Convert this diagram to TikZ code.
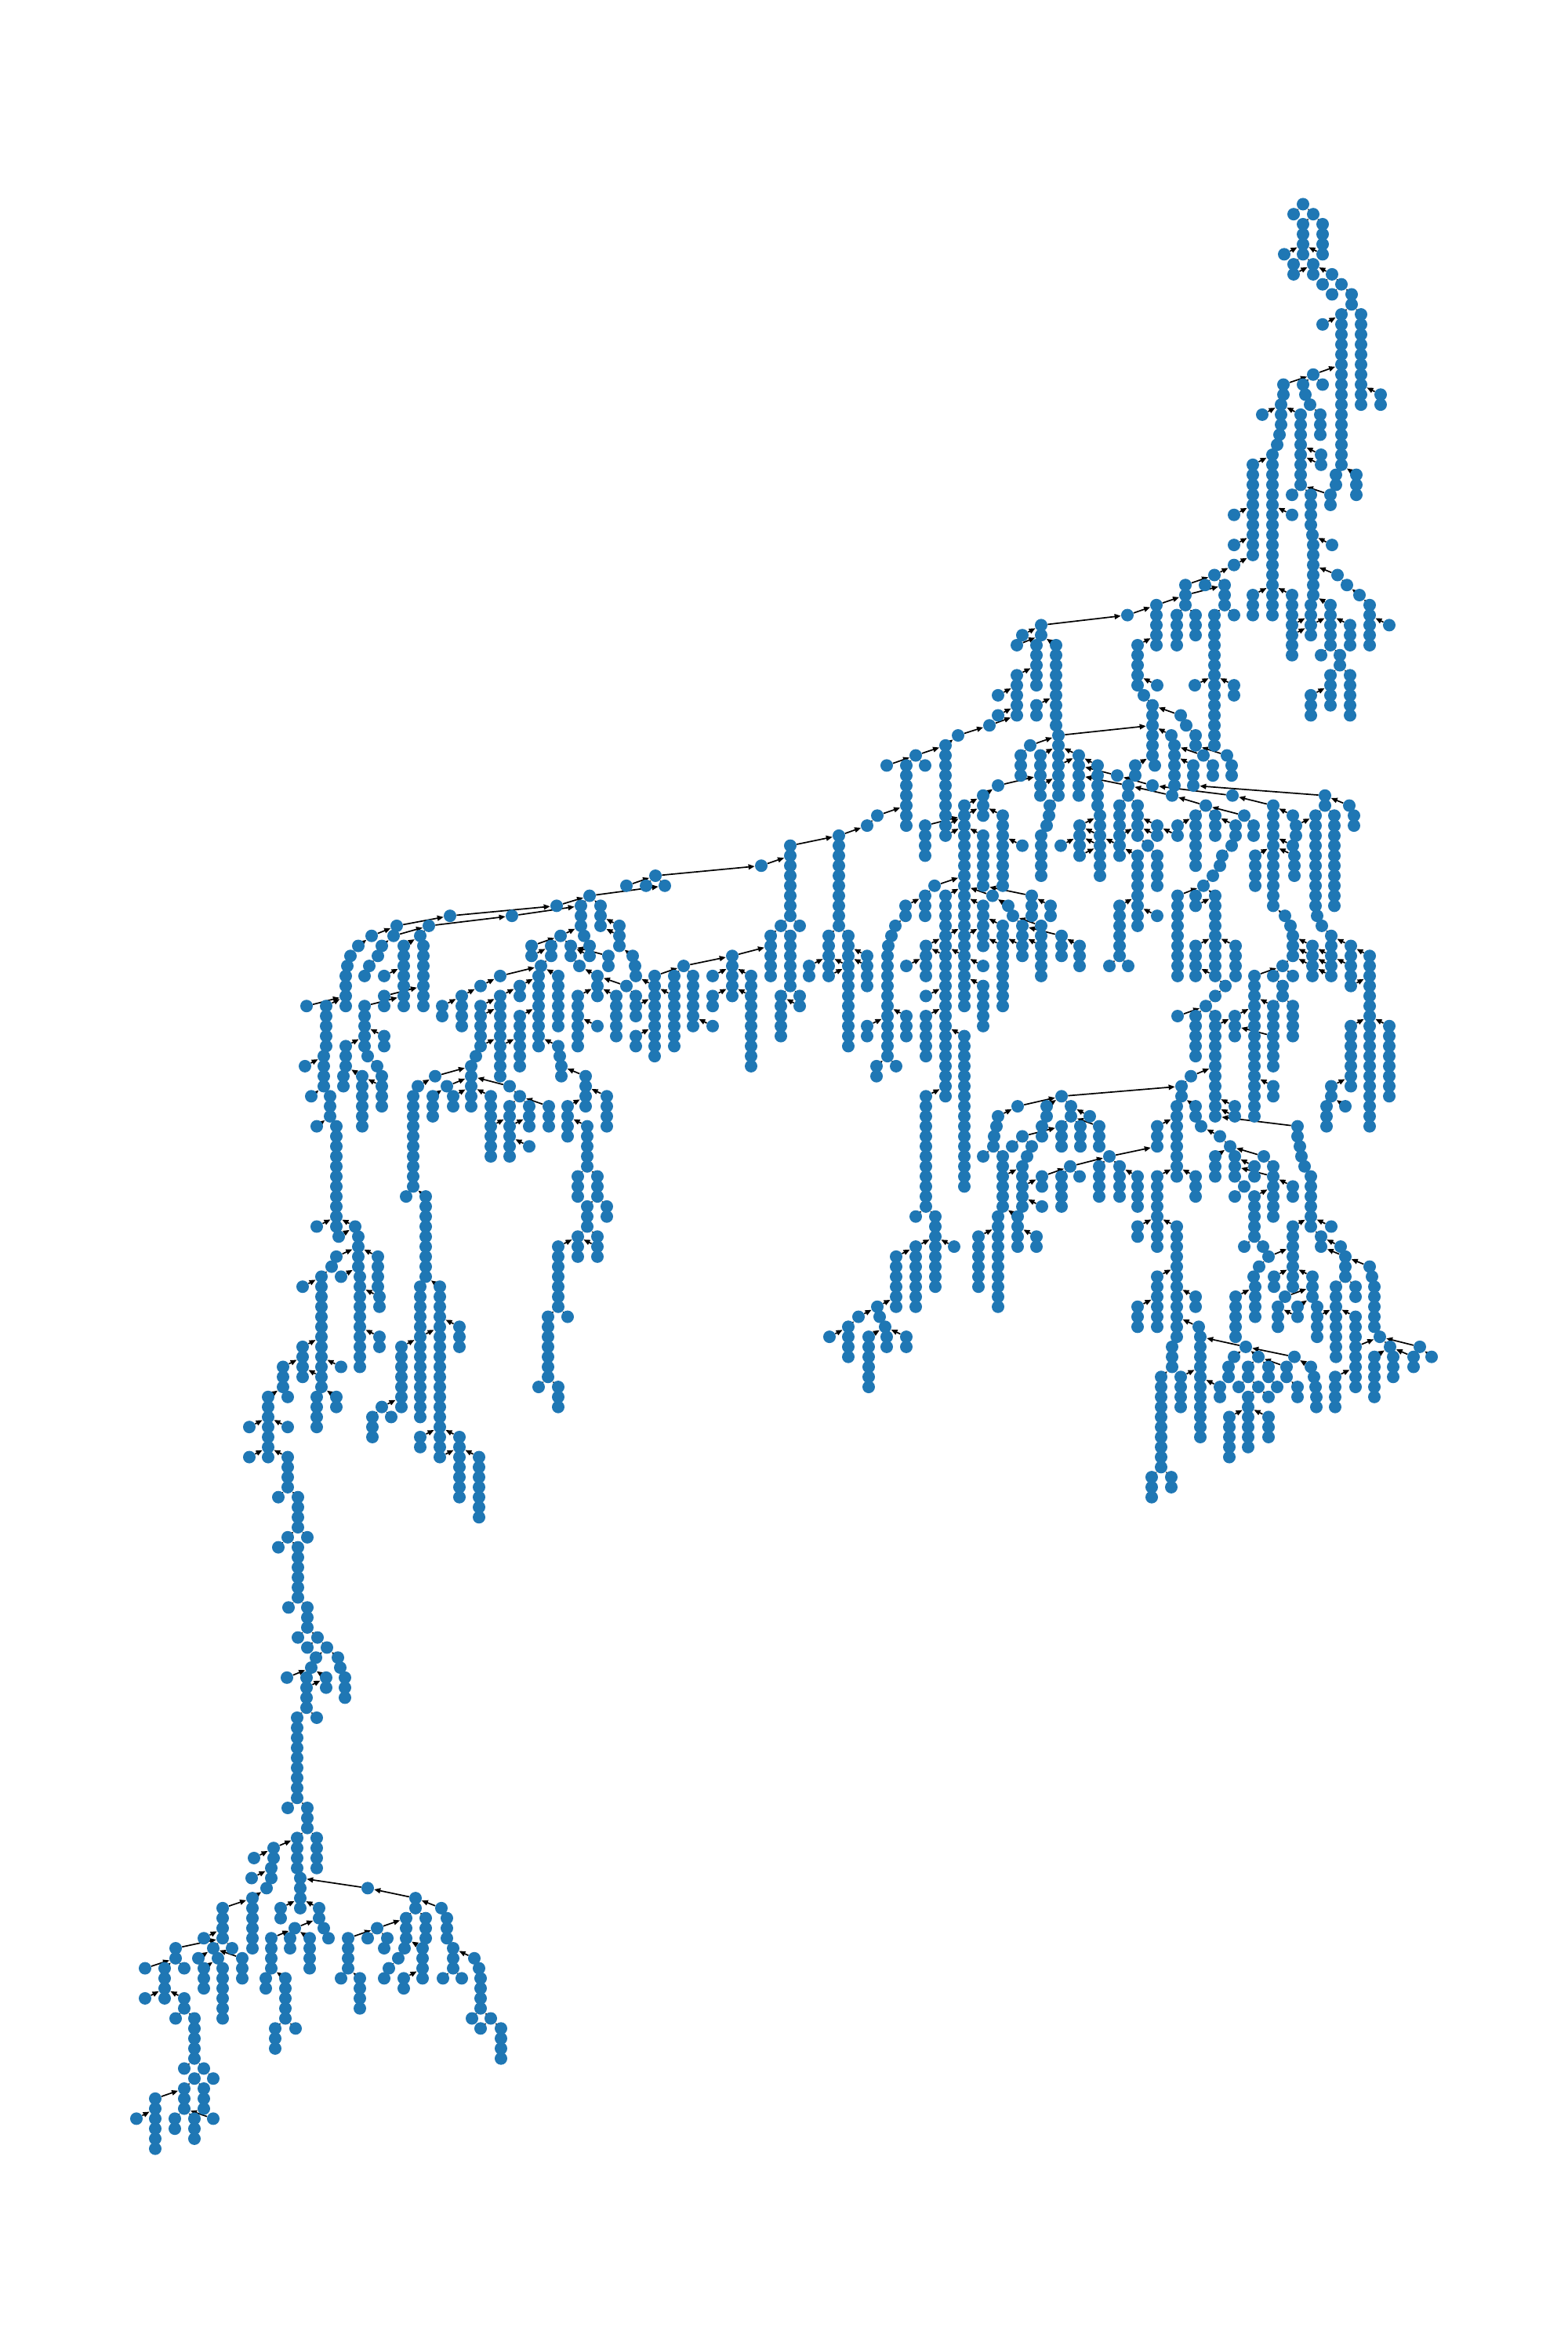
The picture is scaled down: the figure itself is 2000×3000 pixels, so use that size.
\documentclass[tikz,border=0pt]{standalone}
\usetikzlibrary{arrows.meta, backgrounds}
\definecolor{nodeblue}{HTML}{1F77B4}

% each entry: x / first level / count / parent x / parent level
\newcommand{\treecolumns}{%
% top branch
1650/1/1/1662/0, 1675/1/1/1662/0, 1662/2/4/1675/1, 1687/2/4/1675/1, 1638/5/1/1662/4, 1650/6/1/1662/5, 1675/6/1/1662/5,
1650/7/1/1675/6, 1675/7/1/1675/6, 1699/7/1/1675/6, 1687/8/1/1699/7, 1711/8/1/1699/7, 1699/9/1/1711/8, 1724/9/2/1711/8,
1711/11/16/1724/10, 1736/11/10/1724/10, 1687/12/1/1711/11, 1761/19/2/1736/18, 1675/17/1/1711/16, 1637/18/2/1675/17,
1662/18/1/1675/17, 1687/18/1/1675/17, 1665/19/1/1662/18, 1671/20/1/1665/19, 1684/21/3/1671/20, 1634/20/3/1637/19,
1632/23/1/1634/22, 1629/24/1/1632/23, 1623/25/17/1629/24, 1610/21/1/1634/20, 1659/21/8/1634/20, 1685/25/1/1659/24,
1685/26/1/1659/25, 1648/29/1/1659/28, 1672/29/4/1659/28, 1697/29/2/1659/28, 1704/27/2/1711/26, 1730/27/3/1711/26,
1674/33/1/1672/32, 1675/34/6/1674/33, 1699/34/1/1674/33, 1672/40/4/1675/39, 1598/26/10/1623/25, 1648/31/1/1623/30,
1574/31/1/1598/30, 1574/34/1/1598/33, 1574/36/1/1598/35, 1549/37/1/1574/36, 1512/38/1/1549/37, 1537/38/1/1549/37,
1562/38/3/1549/37, 1512/39/2/1562/38, 1475/40/5/1512/39, 1438/41/1/1475/40, 1501/41/4/1512/40, 1525/41/3/1512/40,
1549/41/14/1562/40, 1574/41/1/1562/40, 1598/39/3/1623/38, 1648/39/7/1623/38, 1697/40/5/1675/39, 1706/37/1/1675/36,
1718/38/1/1706/37, 1734/39/1/1718/38, 1747/40/5/1734/39, 1772/42/1/1747/41, 1722/42/3/1697/41, 1685/45/1/1697/44,
1709/45/2/1697/44, 1697/47/4/1709/46, 1722/47/5/1709/46, 1672/49/3/1697/48, 1451/44/5/1475/43, 1476/48/1/1451/47,
1459/49/1/1451/48, 1470/50/6/1459/49, 1473/56/1/1470/55, 1448/56/2/1470/55, 1524/48/1/1549/47, 1574/48/2/1549/47,
% upper middle
1328/42/1/1438/41, 1304/43/1/1328/42, 1328/43/1/1328/42, 1297/44/1/1328/43, 1322/44/5/1328/43, 1347/44/9/1328/43,
1350/53/7/1470/52, 1297/47/5/1322/46, 1273/49/1/1297/48, 1273/51/1/1297/50, 1262/52/1/1297/51, 1222/53/1/1262/52,
1206/54/10/1222/53, 1168/55/1/1206/54, 1131/56/1/1168/55, 1180/56/1/1168/55, 1156/56/7/1168/55, 1119/61/1/1156/60,
1106/62/1/1119/61, 1070/63/10/1106/62, 1322/50/2/1347/49, 1008/64/8/1070/63, 1314/54/1/1350/53, 1302/55/3/1314/54,
1327/55/3/1350/54, 1327/58/2/1350/57, 1376/55/5/1350/54, 1400/56/5/1376/55, 1403/61/7/1400/60, 1425/57/1/1376/56,
1439/58/2/1376/57, 1470/58/1/1425/57, 1572/59/1/1470/58, 1506/51/1/1470/50, 1513/52/1/1506/51, 1525/53/2/1513/52,
1565/55/1/1525/54, 1571/56/2/1565/55, 1494/53/1/1470/52, 1498/54/5/1494/53, 1495/59/1/1439/58, 1535/55/1/1498/54,
1547/56/2/1535/55, 1522/56/3/1498/55, 1538/60/1/1495/59, 1587/61/1/1538/60, 1599/62/2/1587/61, 1690/59/2/1522/58,
1721/60/1/1690/59, 1727/61/2/1721/60, 1624/60/11/1572/59, 1649/61/1/1624/60, 1653/62/2/1678/61, 1649/64/1/1624/63,
1651/65/3/1624/64, 1601/65/4/1624/64, 1678/61/10/1690/60, 1680/71/1/1678/70, 1686/72/1/1680/71, 1702/61/10/1690/60,
1639/71/1/1624/70, 1646/72/1/1639/71, 1649/73/3/1646/72, 1525/61/6/1538/60, 1502/62/1/1525/61, 1476/62/1/1451/61,
1502/63/1/1476/62, 1550/61/3/1538/60, 1576/62/2/1550/61, 1571/64/1/1576/63, 1559/65/1/1571/64, 1556/66/1/1559/65,
1547/67/1/1556/66, 1535/68/1/1547/67, 1502/69/9/1535/68, 1525/69/1/1535/68, 1550/69/9/1535/68, 1525/70/1/1550/69,
1428/60/6/1439/59, 1451/60/4/1439/59, 1464/64/1/1451/63, 1451/65/8/1428/64, 1476/65/4/1464/64, 1476/63/1/1451/62,
1377/62/4/1403/61, 1353/64/1/1377/63, 1273/58/1/1327/57, 1254/59/3/1273/58, 1230/60/21/1254/59, 1279/61/8/1254/60,
1304/64/1/1279/63, 1254/63/6/1230/62, 1180/62/4/1230/61, 1339/60/1/1350/59, 1338/61/1/1339/60, 1335/62/1/1338/61,
1328/63/5/1335/62, 1192/68/1/1230/67, 1180/69/3/1192/68, 1155/70/2/1180/69, 1142/72/1/1155/71, 1137/73/1/1142/72,
1133/74/1/1137/73, 1132/75/11/1133/74, 1206/69/21/1230/68, 1266/69/1/1230/68, 1286/70/1/1266/69, 1292/71/1/1286/70,
1304/72/4/1292/71, 1316/69/3/1254/68, 1340/70/2/1316/69, 1254/70/5/1230/69, 1279/72/9/1254/71, 1328/72/6/1292/71,
1354/73/3/1304/72, 1377/74/3/1354/73, 1057/73/5/1070/72, 1082/73/12/1070/72, 1106/75/4/1082/74, 1181/74/4/1206/73,
1156/76/1/1181/75, 1254/76/1/1230/75, 1254/78/5/1230/77, 1428/70/6/1451/69, 1415/76/1/1428/75, 1439/76/1/1428/75,
1476/71/1/1451/70, 1525/74/4/1550/73, 1576/74/4/1550/73, 1636/76/1/1649/75, 1600/77/15/1636/76, 1624/77/1/1636/76,
1649/77/1/1636/76, 1636/78/2/1624/77, 1649/80/4/1636/79, 1624/80/7/1636/79, 1624/88/2/1600/87, 1575/81/3/1600/80,
1563/78/1/1550/77, 1550/79/1/1563/78, 1538/80/1/1550/79, 1502/81/1/1538/80, 1525/81/5/1538/80, 1550/81/11/1538/80,
1674/74/4/1649/73, 1698/73/5/1686/72, 1723/74/5/1698/73, 1747/75/18/1723/74, 1723/82/7/1747/81, 1772/82/8/1747/81,
1698/88/2/1723/87, 1716/90/1/1698/89, 1692/90/3/1698/89, 1106/82/2/1132/81, 1156/81/3/1132/80, 1118/86/2/1132/85,
1143/86/1/1132/85, 1181/79/1/1206/78, 1181/81/5/1206/80, 1230/83/16/1206/82, 1181/89/12/1206/88, 1168/101/1/1181/100,
1193/101/8/1181/100, 1217/104/1/1193/103, 1168/104/7/1193/103, 1143/105/6/1168/104, 1119/110/1/1143/109,
1122/111/1/1119/110, 1129/112/1/1122/111, 1131/113/2/1129/112, 1095/111/1/1119/110, 1082/112/4/1095/111,
1058/113/1/1082/112, 1108/113/6/1129/112, 1156/113/2/1129/112,
% lower right
1519/87/1/1550/86, 1507/88/2/1519/87, 1354/89/1/1507/88, 1298/90/1/1354/89, 1273/91/1/1298/90, 1271/92/1/1273/91,
1268/93/1/1271/92, 1267/94/1/1268/93, 1254/95/1/1267/94, 1279/95/6/1267/94, 1335/90/2/1354/89, 1329/92/2/1335/91,
1366/90/2/1354/89, 1390/91/1/1366/90, 1354/92/3/1366/91, 1378/92/3/1366/91, 1402/92/3/1366/91, 1304/93/1/1354/92,
1291/94/1/1304/93, 1316/94/1/1304/93, 1310/95/1/1316/94, 1304/96/5/1310/95, 1501/90/8/1507/89, 1476/92/3/1501/91,
1415/95/1/1476/94, 1365/96/1/1415/95, 1329/97/2/1365/96, 1377/97/1/1365/96, 1354/97/4/1365/96, 1329/100/1/1304/99,
1402/96/4/1415/95, 1428/96/4/1415/95, 1451/97/4/1428/96, 1525/97/3/1501/96, 1476/97/8/1501/96, 1501/102/12/1476/101,
1525/90/2/1507/89, 1532/92/1/1525/91, 1556/93/1/1532/92, 1569/94/1/1556/93, 1575/95/3/1569/94, 1550/95/3/1569/94,
1575/90/1/1550/89, 1575/91/1/1550/90, 1655/92/2/1550/91, 1658/94/1/1655/93, 1660/95/1/1658/94, 1664/96/1/1660/95,
1672/97/6/1664/96, 1612/95/1/1569/94, 1624/96/6/1612/95, 1600/96/2/1575/95, 1587/98/1/1575/97, 1575/99/1/1587/98,
1600/99/5/1624/98, 1649/98/2/1624/97, 1273/101/10/1279/100, 1298/101/4/1279/100, 1322/103/2/1298/102,
1248/103/6/1273/102, 1451/102/2/1476/101, 1649/102/7/1672/101, 1698/102/1/1672/101, 1685/103/2/1672/102,
1710/104/1/1685/103, 1716/105/3/1685/104, 1747/106/1/1716/105, 1750/107/1/1747/106, 1753/108/5/1750/107,
1760/113/1/1753/112, 1704/108/8/1716/107, 1729/108/2/1716/107, 1729/111/8/1704/110, 1674/107/3/1649/106,
1680/110/4/1674/109, 1625/107/2/1649/106, 1639/109/1/1674/108, 1630/110/3/1639/109, 1655/110/2/1674/109,
1587/104/1/1600/103, 1611/104/1/1600/103, 1618/105/1/1611/104, 1606/106/1/1618/105, 1599/107/1/1606/106,
1601/108/4/1599/107, 1576/109/5/1601/108, 1476/107/6/1501/106, 1451/110/3/1476/109, 1525/109/2/1501/108,
1529/112/1/1501/111, 1531/113/11/1529/112, 1495/114/3/1501/113, 1481/117/10/1495/116, 1506/117/4/1531/116,
1556/118/2/1531/117, 1469/127/3/1481/126, 1494/127/2/1481/126, 1589/114/1/1531/113, 1651/115/1/1589/114,
1574/115/1/1589/114, 1605/115/1/1589/114, 1567/116/2/1574/115, 1592/116/2/1605/115, 1618/116/2/1605/115,
1641/116/2/1605/115, 1672/116/1/1651/115, 1676/117/1/1672/116, 1678/118/1/1676/117, 1679/119/2/1678/118,
1580/118/1/1592/117, 1605/118/1/1592/117, 1629/118/1/1618/117, 1592/119/6/1605/118, 1618/119/1/1605/118,
1655/118/2/1641/117, 1568/121/5/1592/120, 1618/121/3/1592/120, 1703/117/4/1729/116, 1773/114/1/1760/113,
1753/115/5/1773/114, 1777/115/3/1773/114, 1803/115/2/1773/114, 1811/114/1/1760/113, 1826/115/1/1811/114,
% left of the middle
971/66/1/1008/65, 836/67/1/971/66, 799/68/1/836/67, 824/68/1/836/67, 848/68/1/836/67, 752/69/1/848/68, 710/70/1/752/69,
741/70/3/752/69, 745/73/1/741/72, 752/74/2/745/73, 766/70/3/752/69, 653/71/1/741/70, 574/71/1/710/70, 547/72/1/653/71,
506/72/1/574/71, 474/73/1/506/72, 502/73/1/547/72, 457/74/1/474/73, 447/75/1/457/74, 443/76/1/447/75, 441/77/4/443/76,
391/80/1/441/79, 416/80/5/441/79, 413/85/4/416/84, 389/86/1/413/85, 397/89/1/413/88, 421/89/3/413/88, 404/92/1/421/91,
429/92/11/421/91, 404/102/1/429/101, 453/102/1/429/101, 536/73/1/547/72, 515/74/7/536/73, 540/74/7/536/73,
487/74/1/502/73, 482/75/1/487/74, 471/76/1/482/75, 465/77/1/471/76, 490/77/1/515/76, 490/79/2/540/78, 465/80/5/515/79,
490/83/2/465/82, 441/84/3/465/83, 438/87/2/441/86, 469/85/1/465/84, 481/86/1/469/85, 487/87/4/481/86, 462/87/6/441/86,
790/72/3/766/71, 807/75/1/790/74, 810/76/1/807/75, 811/77/1/810/76, 996/72/1/1008/71, 1020/72/1/1008/71,
983/73/5/996/72, 1008/73/6/996/72, 1032/76/2/1057/75, 996/79/5/1008/78, 1020/79/2/1008/78, 934/75/5/983/74,
872/76/1/934/75, 909/77/1/934/76, 958/77/10/934/76, 909/79/2/934/78, 835/77/9/872/76, 860/77/8/872/76, 884/77/6/872/76,
909/82/1/884/81, 715/73/1/741/72, 728/74/2/715/73, 678/74/2/715/73, 703/74/2/715/73, 776/75/2/728/74, 739/76/1/728/75,
762/77/3/739/76, 799/78/1/762/77, 811/79/3/799/78, 786/79/5/762/78, 811/83/2/835/82, 737/79/6/762/78, 762/82/1/737/81,
690/76/1/703/75, 687/77/8/690/76, 638/77/1/690/76, 613/78/1/638/77, 589/79/4/613/78, 564/80/2/589/79, 712/77/6/690/76,
663/78/2/687/77, 638/79/9/663/78, 613/80/5/638/79, 607/85/1/613/84, 601/86/5/607/85, 663/81/6/687/80, 712/84/1/687/83,
714/85/1/712/84, 716/86/2/714/85, 747/87/4/716/86, 774/89/4/747/88, 724/90/4/747/89, 749/92/5/724/91, 737/97/3/749/96,
762/97/3/749/96, 749/100/3/762/99, 774/100/2/762/99, 737/103/3/749/102, 762/103/3/749/102, 712/104/7/737/103,
699/111/7/712/110, 724/111/1/712/110, 687/118/1/699/117, 712/118/3/699/117, 555/87/1/601/86, 533/88/1/555/87,
527/89/10/533/88, 518/99/1/527/98, 543/99/9/527/98, 536/108/14/543/107, 561/108/18/543/107, 586/112/3/561/111,
512/114/7/536/113, 487/120/1/512/119, 475/121/3/487/120, 499/121/1/487/120, 536/123/2/561/122, 586/123/7/561/122,
611/125/7/586/124, 570/88/1/601/87, 552/89/3/570/88, 578/89/2/601/88, 650/88/1/601/87, 663/89/1/650/88, 626/89/7/601/88,
650/90/6/663/89, 675/90/3/663/89, 700/90/3/663/89, 675/94/1/650/93,
% long stem on the left
432/103/1/453/102, 457/103/4/453/102, 459/107/10/457/106, 429/105/1/457/104, 423/106/1/429/105, 410/107/12/423/106,
435/107/1/457/106, 482/105/4/457/104, 484/109/2/482/108, 484/113/2/459/112, 386/108/1/410/107, 386/114/4/410/113,
361/116/3/386/115, 342/119/7/361/118, 367/119/1/361/118, 435/116/1/410/115, 404/119/4/410/118, 429/119/2/410/118,
318/122/1/342/121, 367/122/1/342/121, 318/125/1/342/124, 367/125/4/342/124, 355/129/1/367/128, 380/129/4/367/128,
367/133/1/380/132, 392/133/1/380/132, 355/134/1/367/133, 380/134/6/367/133, 368/140/1/380/139, 392/140/3/380/139,
380/143/1/392/142, 405/143/1/392/142, 392/144/1/405/143, 417/144/1/405/143, 403/145/1/417/144, 431/145/1/417/144,
397/146/1/403/145, 434/146/1/431/145, 366/147/1/397/146, 391/147/4/397/146, 416/147/2/397/146, 440/147/3/434/146,
379/151/9/391/150, 404/151/1/391/150, 367/160/1/379/159, 392/160/3/379/159, 379/163/4/392/162, 404/163/4/392/162,
349/164/2/379/163, 324/165/1/349/164, 346/166/2/349/165, 321/167/1/346/166, 383/167/4/379/166, 340/168/1/346/167,
322/169/6/340/168,
% bottom branch
469/168/1/383/167, 530/169/2/469/168, 563/170/1/530/169, 570/171/3/563/170, 518/171/3/530/170, 516/174/1/518/173,
543/171/3/530/170, 539/174/4/543/173, 508/175/1/516/174, 496/176/1/508/175, 490/177/1/496/176, 515/177/2/539/176,
481/172/1/518/171, 444/173/4/481/172, 469/173/1/481/172, 494/173/1/481/172, 490/174/1/494/173, 435/177/1/444/176,
459/177/4/444/176, 578/174/3/570/173, 605/175/1/578/174, 611/176/1/605/175, 613/177/4/611/176, 565/177/1/578/176,
589/177/1/578/176, 602/181/1/613/180, 626/181/1/613/180, 613/182/1/626/181, 639/182/4/626/181, 358/170/2/383/169,
407/170/2/383/169, 413/172/1/407/171, 419/173/1/413/172, 376/172/1/407/171, 346/173/4/376/172, 370/173/2/376/172,
395/173/4/376/172, 339/177/2/346/176, 364/177/5/346/176, 351/182/3/364/181, 377/182/1/364/181, 284/170/4/322/169,
260/173/1/284/172, 296/174/1/284/173, 224/174/2/284/173, 272/174/1/284/173, 185/176/1/224/175, 210/176/4/224/175,
235/176/1/224/175, 185/179/1/210/178, 235/179/2/210/178, 224/181/1/235/180, 248/181/5/235/180, 235/186/1/248/185,
260/186/1/248/185, 248/187/1/260/186, 272/187/1/260/186, 235/188/3/248/187, 260/188/3/248/187, 198/189/6/235/188,
174/191/1/198/190, 223/191/2/235/190, 248/191/3/235/190, 272/191/1/235/190, 253/175/1/272/174, 278/175/1/272/174,
260/176/3/278/175, 284/176/6/278/175, 309/175/3/272/174%
}

% links that leave a column half way: from x / level to x / level
\newcommand{\treelinks}{%
1687/5/1662/4, 1648/42/1672/41, 1648/43/1672/42, 1672/42/1697/41, 1350/56/1376/55, 1403/63/1377/62, 1403/64/1377/63,
1377/65/1403/64, 1428/64/1403/63, 1428/63/1451/62, 1206/63/1230/62, 1206/62/1230/61, 1230/61/1254/60, 1206/75/1181/74,
1230/75/1206/74, 1206/73/1230/72, 1230/73/1254/72, 1279/74/1254/73, 1304/74/1279/73, 1328/74/1304/73, 1082/76/1057/75,
1106/76/1082/75, 1057/77/1082/76, 1550/77/1525/76, 1624/80/1600/79, 1550/82/1575/81, 1624/83/1575/82, 1674/75/1649/74,
1674/76/1649/75, 1698/75/1674/74, 1698/76/1674/75, 1723/76/1698/75, 1698/77/1674/76, 1723/78/1747/77, 1279/97/1304/96,
1304/98/1329/97, 1624/97/1575/96, 1680/111/1704/110, 1655/111/1630/110, 1618/105/1649/104, 1729/114/1760/113,
1020/80/996/79, 835/78/811/77, 860/79/835/78, 958/79/934/78, 752/75/728/74, 678/75/703/74, 811/80/835/79, 613/81/638/80,
613/84/638/83, 638/84/663/83, 626/92/650/91, 650/92/675/91, 487/88/462/87, 536/113/561/112, 561/125/586/124, 762/104/737/103,
410/117/386/116, 484/109/459/108, 790/73/766/72, 391/148/416/147, 539/174/518/173%
}

\begin{document}
\begin{tikzpicture}[
    x=0.5pt, y=-0.5pt,
    dot/.style={circle, fill=nodeblue, inner sep=0pt, minimum size=8pt},
    link/.style={-{Triangle[length=4pt, width=3.3pt]}, black, line width=0.85pt}
]
\useasboundingbox (0,0) rectangle (2000,3000);

% Nodes, one column at a time
\node[dot] (n1662-0) at (1662,260.4) {};
\foreach \cx/\cl/\cn/\px/\pl in \treecolumns {
    \pgfmathtruncatemacro{\last}{\cl+\cn-1}
    \foreach \k in {\cl,...,\last}
        \node[dot] (n\cx-\k) at (\cx,{260.4+12.785*\k}) {};
}

% Connectors go under the nodes
\begin{scope}[on background layer]
\foreach \cx/\cl/\cn/\px/\pl in \treecolumns {
    \draw[link] (n\cx-\cl) -- (n\px-\pl);
    \ifnum\cn>1
        \pgfmathtruncatemacro{\last}{\cl+\cn-1}
        \pgfmathtruncatemacro{\first}{\cl+1}
        \foreach \k [remember=\k as \up (initially \cl)] in {\first,...,\last}
            \draw[link] (n\cx-\k) -- (n\cx-\up);
    \fi
}
\foreach \ax/\al/\bx/\bl in \treelinks
    \draw[link] (n\ax-\al) -- (n\bx-\bl);
\end{scope}

\end{tikzpicture}
\end{document}
